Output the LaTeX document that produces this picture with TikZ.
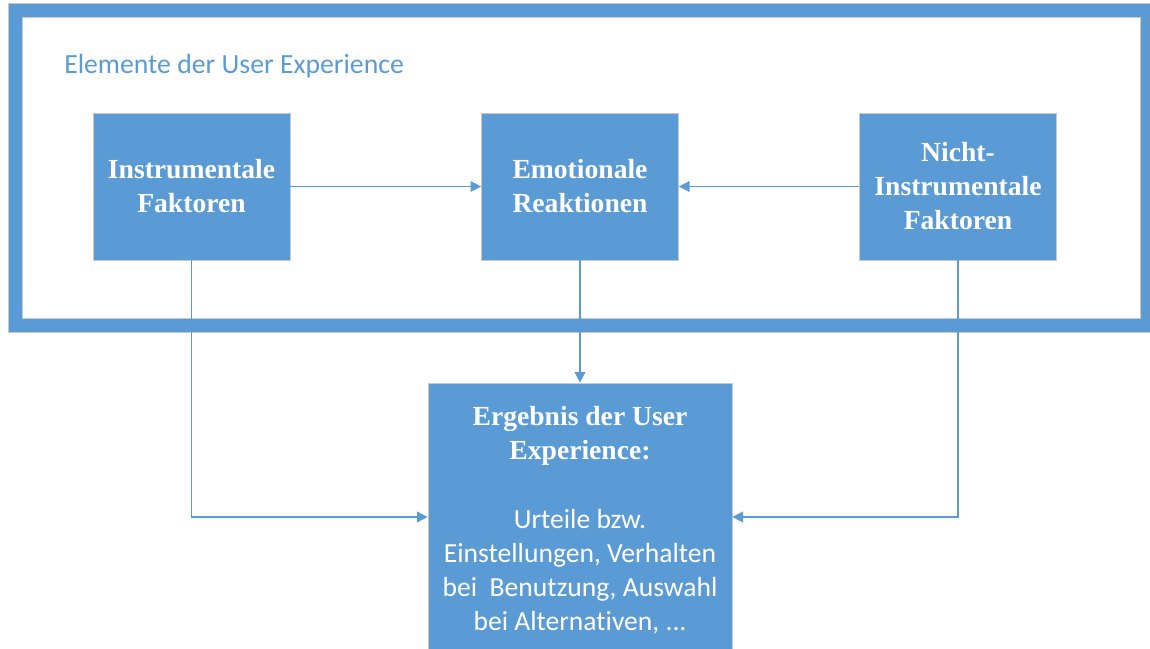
\documentclass[tikz,border=0pt]{standalone}
\usepackage{fontspec}
\setmainfont{Liberation Serif}
\newfontfamily\carlito[Ligatures=NoCommon]{Carlito}
\usetikzlibrary{arrows.meta}
\definecolor{uxblue}{HTML}{5B9BD5}
\definecolor{edgegray}{HTML}{C8C8C8}
\begin{document}
\begin{tikzpicture}[x=0.75pt,y=-0.75pt,
  box/.style={fill=uxblue,draw=edgegray,line width=0.5pt,inner sep=0pt,
    minimum width=147.75pt,minimum height=110.25pt,text=white,align=center,
    font=\fontsize{20.7}{25.5}\selectfont\bfseries},
  arr/.style={draw=uxblue,line width=1.1pt,-{Triangle[length=8pt,width=8pt]}}]
\useasboundingbox (0,0) rectangle (1150,649);
\clip (0,0) rectangle (1150,649);
% frame
\draw[uxblue,line width=10.5pt] (15,10) rectangle (1147,325);
\draw[edgegray,line width=0.5pt] (22,17) rectangle (1140,318);
\draw[edgegray,line width=0.5pt] (8,3) rectangle (1154,332);
\node[anchor=west,text=uxblue,font=\carlito\fontsize{20.8}{24}\selectfont,inner sep=0pt] (title) at (64,66) {Elemente der User Experience};
% boxes
\node[box] (instr) at (191.5,186.5) {Instrumentale\\Faktoren};
\node[box] (emot) at (580,186.5) {Emotionale\\Reaktionen};
\node[box] (nicht) at (958,186.5) {Nicht-\\Instrumentale\\Faktoren};
\node[fill=uxblue,draw=edgegray,line width=0.5pt,inner sep=0pt,minimum width=228pt,minimum height=201pt] (res) at (580,517) {};
\node[text=white,align=center,inner sep=0pt,font=\fontsize{20.7}{25.5}\selectfont\bfseries] (restitle) at (580,436) {Ergebnis der User\\Experience:};
\node[text=white,align=center,inner sep=0pt,font=\carlito\fontsize{20.7}{25.5}\selectfont] (resbody) at (580,572) {Urteile bzw.\\Einstellungen, Verhalten\\bei\ \ Benutzung, Auswahl\\bei Alternativen, ...};
% connectors
\draw[arr] (instr.east) -- (emot.west);
\draw[arr] (nicht.west) -- (emot.east);
\draw[arr] (emot.south) -- (res.north);
\draw[arr] (instr.south) |- (res.west);
\draw[arr] (nicht.south) |- (res.east);
\end{tikzpicture}
\end{document}
